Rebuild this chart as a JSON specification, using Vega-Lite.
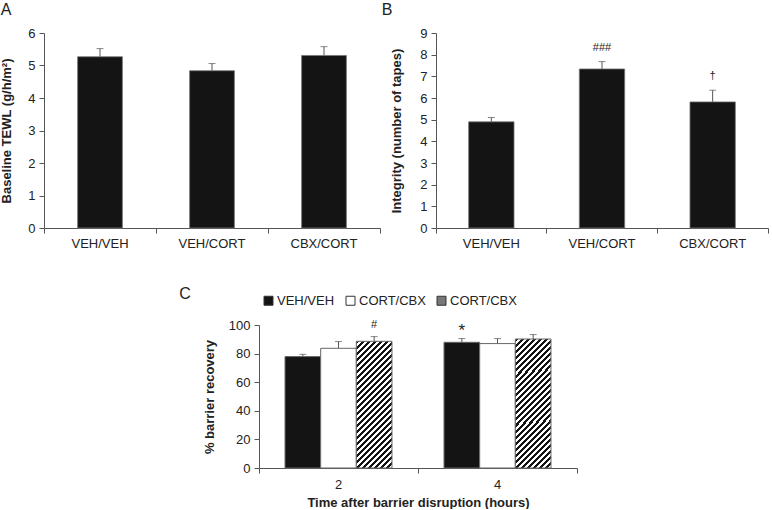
{
  "$schema": "https://vega.github.io/schema/vega-lite/v6.json",
  "padding": {"left": 0, "top": 2, "right": 0, "bottom": 0},
  "resolve": {"scale": {"fill": "independent"}, "legend": {"fill": "independent"}},
  "config": {
    "view": {"stroke": null},
    "font": "Liberation Sans",
    "axis": {
      "labelFont": "Liberation Sans", "labelFontSize": 13, "labelColor": "#222",
      "titleFont": "Liberation Sans", "titleFontSize": 13, "titleFontWeight": "bold", "titleColor": "#222",
      "domainColor": "#555", "tickColor": "#555", "tickSize": 5, "grid": false, "labelPadding": 4
    },
    "title": {"font": "Liberation Sans", "fontSize": 16, "fontWeight": "normal", "color": "#222", "anchor": "start"}
  },
  "vconcat": [
    {
      "hconcat": [
        {
          "title": {"text": "A", "offset": 9},
          "width": 336, "height": 195,
          "data": {"values": [
            {"g": "VEH/VEH", "v": 5.27, "e": 5.52},
            {"g": "VEH/CORT", "v": 4.84, "e": 5.06},
            {"g": "CBX/CORT", "v": 5.31, "e": 5.58}
          ]},
          "encoding": {
            "x": {"field": "g", "type": "nominal", "sort": null, "scale": {"paddingInner": 0, "paddingOuter": 0},
              "axis": {"title": null, "labelAngle": 0, "bandPosition": 1, "tickExtra": true}},
            "y": {"field": "v", "type": "quantitative", "scale": {"domain": [0, 6]},
              "axis": {"title": "Baseline TEWL (g/h/m²)", "values": [0, 1, 2, 3, 4, 5, 6], "titlePadding": 14}}
          },
          "layer": [
            {"mark": {"type": "rule", "color": "#555", "strokeWidth": 1}, "encoding": {"y2": {"field": "e"}}},
            {"mark": {"type": "tick", "color": "#555", "size": 7, "thickness": 1}, "encoding": {"y": {"field": "e", "type": "quantitative"}}},
            {"mark": {"type": "bar", "width": {"band": 0.4}, "fill": "#141414", "stroke": "#777", "strokeWidth": 0.8}}
          ]
        },
        {
          "title": {"text": "B", "offset": 9, "dx": -9},
          "width": 332, "height": 195,
          "data": {"values": [
            {"g": "VEH/VEH", "v": 4.90, "e": 5.10, "sig": ""},
            {"g": "VEH/CORT", "v": 7.34, "e": 7.68, "sig": "###"},
            {"g": "CBX/CORT", "v": 5.82, "e": 6.36, "sig": "†"}
          ]},
          "encoding": {
            "x": {"field": "g", "type": "nominal", "sort": null, "scale": {"paddingInner": 0, "paddingOuter": 0},
              "axis": {"title": null, "labelAngle": 0, "bandPosition": 1, "tickExtra": true}},
            "y": {"field": "v", "type": "quantitative", "scale": {"domain": [0, 9]},
              "axis": {"title": "Integrity (number of tapes)", "values": [0, 1, 2, 3, 4, 5, 6, 7, 8, 9], "titlePadding": 16}}
          },
          "layer": [
            {"mark": {"type": "rule", "color": "#555", "strokeWidth": 1}, "encoding": {"y2": {"field": "e"}}},
            {"mark": {"type": "tick", "color": "#555", "size": 7, "thickness": 1}, "encoding": {"y": {"field": "e", "type": "quantitative"}}},
            {"mark": {"type": "bar", "width": {"band": 0.41}, "fill": "#141414", "stroke": "#777", "strokeWidth": 0.8}},
            {"transform": [{"filter": "datum.sig !== ''"}],
             "mark": {"type": "text", "fontSize": 11, "color": "#222", "baseline": "middle", "dy": -14},
             "encoding": {"y": {"field": "e", "type": "quantitative"}, "text": {"field": "sig"}}}
          ]
        }
      ],
      "spacing": 0
    },
    {
      "resolve": {"scale": {"fill": "independent"}, "legend": {"fill": "independent"}},
      "hconcat": [
        {
          "width": 135, "height": 10,
          "data": {"values": []},
          "mark": {"type": "point", "opacity": 0},
          "encoding": {}
        },
        {
          "title": {"text": "C", "offset": -8, "dx": -24},
          "width": 318, "height": 143,
          "data": {"values": [
            {"t": "2", "g": "VEH/VEH", "v": 77.9, "e": 79.5, "sig": ""},
            {"t": "2", "g": "CORT/CBX", "v": 83.7, "e": 88.4, "sig": ""},
            {"t": "2", "g": "CORT/CBX ", "v": 88.6, "e": 91.9, "sig": "#"},
            {"t": "4", "g": "VEH/VEH", "v": 87.9, "e": 90.5, "sig": "*"},
            {"t": "4", "g": "CORT/CBX", "v": 87.0, "e": 90.5, "sig": ""},
            {"t": "4", "g": "CORT/CBX ", "v": 90.2, "e": 93.3, "sig": ""}
          ]},
          "encoding": {
            "x": {"field": "t", "type": "nominal", "sort": null, "scale": {"paddingInner": 0, "paddingOuter": 0},
              "axis": {"title": "Time after barrier disruption (hours)", "labelAngle": 0, "bandPosition": 1, "tickExtra": true, "labelPadding": 5, "titlePadding": 5}},
            "xOffset": {"field": "g", "type": "nominal", "scale": {"domain": ["VEH/VEH", "CORT/CBX", "CORT/CBX "], "paddingInner": 0, "paddingOuter": 0.73}},
            "y": {"field": "v", "type": "quantitative", "scale": {"domain": [0, 100]},
              "axis": {"title": "% barrier recovery", "values": [0, 20, 40, 60, 80, 100], "titlePadding": 12}}
          },
          "layer": [
            {"mark": {"type": "rule", "color": "#555", "strokeWidth": 1}, "encoding": {"y2": {"field": "e"}}},
            {"mark": {"type": "tick", "color": "#555", "size": 7, "thickness": 1}, "encoding": {"y": {"field": "e", "type": "quantitative"}}},
            {"mark": {"type": "bar", "stroke": "#666", "strokeWidth": 1},
             "encoding": {
               "fill": {
                 "condition": {"test": "datum.g === 'CORT/CBX '", "value": {"gradient": "linear", "x1": 0, "y1": 0, "x2": 0.334, "y2": 1.187, "stops": [
                   {"offset": 0, "color": "#141414"}, {"offset": 0.018519, "color": "#141414"}, {"offset": 0.018519, "color": "#ffffff"}, {"offset": 0.037037, "color": "#ffffff"},
                   {"offset": 0.037037, "color": "#141414"}, {"offset": 0.055556, "color": "#141414"}, {"offset": 0.055556, "color": "#ffffff"}, {"offset": 0.074074, "color": "#ffffff"},
                   {"offset": 0.074074, "color": "#141414"}, {"offset": 0.092593, "color": "#141414"}, {"offset": 0.092593, "color": "#ffffff"}, {"offset": 0.111111, "color": "#ffffff"},
                   {"offset": 0.111111, "color": "#141414"}, {"offset": 0.12963, "color": "#141414"}, {"offset": 0.12963, "color": "#ffffff"}, {"offset": 0.148148, "color": "#ffffff"},
                   {"offset": 0.148148, "color": "#141414"}, {"offset": 0.166667, "color": "#141414"}, {"offset": 0.166667, "color": "#ffffff"}, {"offset": 0.185185, "color": "#ffffff"},
                   {"offset": 0.185185, "color": "#141414"}, {"offset": 0.203704, "color": "#141414"}, {"offset": 0.203704, "color": "#ffffff"}, {"offset": 0.222222, "color": "#ffffff"},
                   {"offset": 0.222222, "color": "#141414"}, {"offset": 0.240741, "color": "#141414"}, {"offset": 0.240741, "color": "#ffffff"}, {"offset": 0.259259, "color": "#ffffff"},
                   {"offset": 0.259259, "color": "#141414"}, {"offset": 0.277778, "color": "#141414"}, {"offset": 0.277778, "color": "#ffffff"}, {"offset": 0.296296, "color": "#ffffff"},
                   {"offset": 0.296296, "color": "#141414"}, {"offset": 0.314815, "color": "#141414"}, {"offset": 0.314815, "color": "#ffffff"}, {"offset": 0.333333, "color": "#ffffff"},
                   {"offset": 0.333333, "color": "#141414"}, {"offset": 0.351852, "color": "#141414"}, {"offset": 0.351852, "color": "#ffffff"}, {"offset": 0.37037, "color": "#ffffff"},
                   {"offset": 0.37037, "color": "#141414"}, {"offset": 0.388889, "color": "#141414"}, {"offset": 0.388889, "color": "#ffffff"}, {"offset": 0.407407, "color": "#ffffff"},
                   {"offset": 0.407407, "color": "#141414"}, {"offset": 0.425926, "color": "#141414"}, {"offset": 0.425926, "color": "#ffffff"}, {"offset": 0.444444, "color": "#ffffff"},
                   {"offset": 0.444444, "color": "#141414"}, {"offset": 0.462963, "color": "#141414"}, {"offset": 0.462963, "color": "#ffffff"}, {"offset": 0.481481, "color": "#ffffff"},
                   {"offset": 0.481481, "color": "#141414"}, {"offset": 0.5, "color": "#141414"}, {"offset": 0.5, "color": "#ffffff"}, {"offset": 0.518519, "color": "#ffffff"},
                   {"offset": 0.518519, "color": "#141414"}, {"offset": 0.537037, "color": "#141414"}, {"offset": 0.537037, "color": "#ffffff"}, {"offset": 0.555556, "color": "#ffffff"},
                   {"offset": 0.555556, "color": "#141414"}, {"offset": 0.574074, "color": "#141414"}, {"offset": 0.574074, "color": "#ffffff"}, {"offset": 0.592593, "color": "#ffffff"},
                   {"offset": 0.592593, "color": "#141414"}, {"offset": 0.611111, "color": "#141414"}, {"offset": 0.611111, "color": "#ffffff"}, {"offset": 0.62963, "color": "#ffffff"},
                   {"offset": 0.62963, "color": "#141414"}, {"offset": 0.648148, "color": "#141414"}, {"offset": 0.648148, "color": "#ffffff"}, {"offset": 0.666667, "color": "#ffffff"},
                   {"offset": 0.666667, "color": "#141414"}, {"offset": 0.685185, "color": "#141414"}, {"offset": 0.685185, "color": "#ffffff"}, {"offset": 0.703704, "color": "#ffffff"},
                   {"offset": 0.703704, "color": "#141414"}, {"offset": 0.722222, "color": "#141414"}, {"offset": 0.722222, "color": "#ffffff"}, {"offset": 0.740741, "color": "#ffffff"},
                   {"offset": 0.740741, "color": "#141414"}, {"offset": 0.759259, "color": "#141414"}, {"offset": 0.759259, "color": "#ffffff"}, {"offset": 0.777778, "color": "#ffffff"},
                   {"offset": 0.777778, "color": "#141414"}, {"offset": 0.796296, "color": "#141414"}, {"offset": 0.796296, "color": "#ffffff"}, {"offset": 0.814815, "color": "#ffffff"},
                   {"offset": 0.814815, "color": "#141414"}, {"offset": 0.833333, "color": "#141414"}, {"offset": 0.833333, "color": "#ffffff"}, {"offset": 0.851852, "color": "#ffffff"},
                   {"offset": 0.851852, "color": "#141414"}, {"offset": 0.87037, "color": "#141414"}, {"offset": 0.87037, "color": "#ffffff"}, {"offset": 0.888889, "color": "#ffffff"},
                   {"offset": 0.888889, "color": "#141414"}, {"offset": 0.907407, "color": "#141414"}, {"offset": 0.907407, "color": "#ffffff"}, {"offset": 0.925926, "color": "#ffffff"},
                   {"offset": 0.925926, "color": "#141414"}, {"offset": 0.944444, "color": "#141414"}, {"offset": 0.944444, "color": "#ffffff"}, {"offset": 0.962963, "color": "#ffffff"},
                   {"offset": 0.962963, "color": "#141414"}, {"offset": 0.981481, "color": "#141414"}, {"offset": 0.981481, "color": "#ffffff"}, {"offset": 1, "color": "#ffffff"}
                 ]}},
                 "field": "g", "type": "nominal",
                 "scale": {"domain": ["VEH/VEH", "CORT/CBX", "CORT/CBX "], "range": ["#141414", "#ffffff", "#777777"]},
                 "legend": {
                   "title": null, "orient": "none", "legendX": 3, "legendY": -31, "direction": "horizontal",
                   "symbolType": "square", "symbolSize": 81, "symbolStrokeColor": "#333", "symbolStrokeWidth": 1,
                   "labelFont": "Liberation Sans", "labelFontSize": 13, "labelColor": "#222", "labelOffset": 2, "columnPadding": 9,
                   "encode": {"symbols": {"update": {
                     "stroke": {"value": "#333"},
                     "strokeWidth": {"value": 1}
                   }}}
                 }
               }
             }},
            {"transform": [{"filter": "datum.sig === '#'"}],
             "mark": {"type": "text", "fontSize": 11, "color": "#222", "baseline": "middle", "dy": -12},
             "encoding": {"y": {"field": "e", "type": "quantitative"}, "text": {"field": "sig"}}},
            {"transform": [{"filter": "datum.sig === '*'"}],
             "mark": {"type": "text", "fontSize": 17, "color": "#222", "baseline": "middle", "dy": -8},
             "encoding": {"y": {"field": "e", "type": "quantitative"}, "text": {"field": "sig"}}}
          ]
        }
      ],
      "spacing": 0
    }
  ],
  "spacing": 36
}
